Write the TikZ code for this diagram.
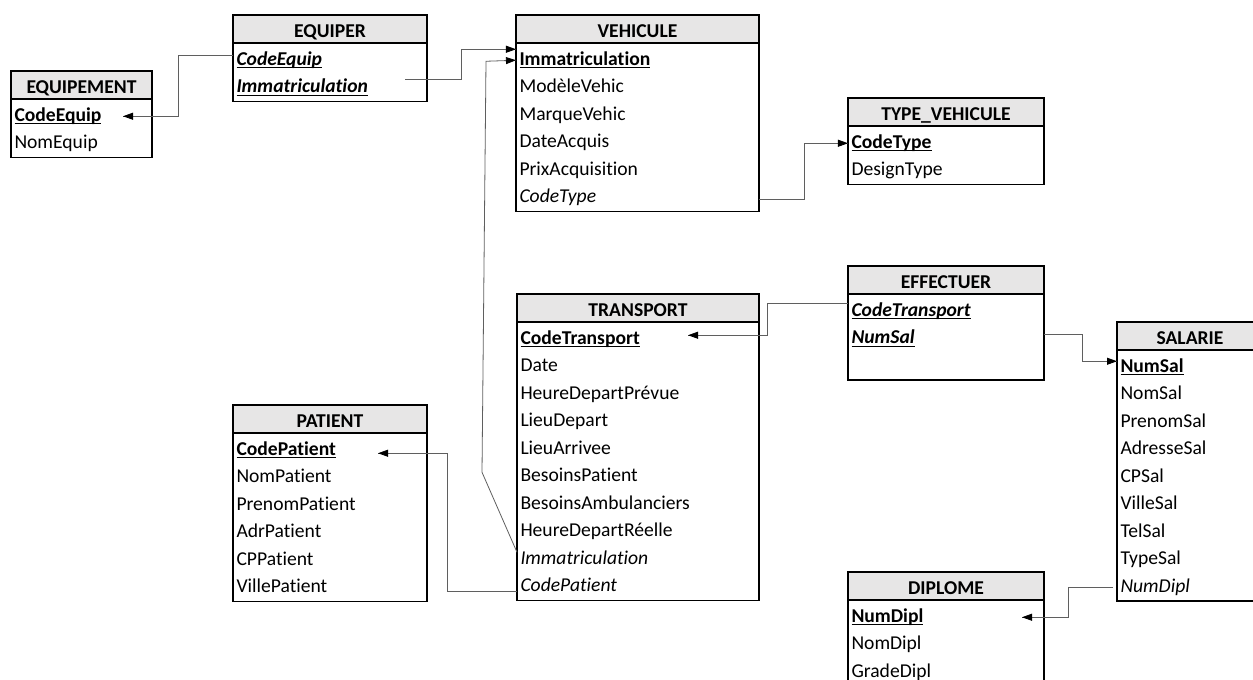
\documentclass[tikz,border=0pt]{standalone}
\usepackage{fontspec}
\setmainfont{Carlito}[Ligatures=NoCommon]
\usetikzlibrary{positioning, calc, arrows.meta, decorations.markings}
\usepackage{xcolor}
\definecolor{gris}{RGB}{231,230,230}
\definecolor{trait}{RGB}{95,95,95}
\newcommand{\Cle}[1]{\sbox0{#1}\rlap{\rule[-3pt]{\wd0}{1.2pt}}\usebox0}
\tikzstyle{Entete} = [
draw, line width=1.3pt, fill=gris,
anchor=north west, inner sep=0pt, outer sep=0pt,
minimum height=28pt, text height=16pt, text depth=0pt,
font=\bfseries]
\tikzset{Champ/.style={
text width=#1, inner xsep=3.5pt, inner ysep=0pt, outer sep=0pt,
minimum height=27.5pt, text height=14pt, text depth=4pt, align=left}}
\tikzstyle{Cadre} = [line width=1.3pt]
\tikzstyle{Lien} = [
draw=trait, line width=0.8pt,
decoration={
markings,
mark=at position 0.9999 with {
\arrow{Triangle[length=10pt, width=7pt, color=black]}}},
postaction = {decorate}]

\begin{document}
\fontsize{19.6}{23}\selectfont
\begin{tikzpicture}[x=1pt, y=-1pt]
    \useasboundingbox (0,0) rectangle (1253,680);
    \clip (0,0) rectangle (1253,680);

    % EQUIPEMENT
    \node[Entete, minimum width=141pt] (eqt) at (11,71) {EQUIPEMENT};
    \node[Champ=134pt, below =3.5pt of eqt] (eqt1) {\Cle{\textbf{CodeEquip}}};
    \node[Champ=134pt, below =0pt of eqt1] (eqt2) {NomEquip};
    \draw[Cadre] (eqt.north west) rectangle (eqt2.south east);

    % EQUIPER
    \node[Entete, minimum width=194pt] (equ) at (233,15) {EQUIPER};
    \node[Champ=187pt, below =3.5pt of equ] (equ1) {\Cle{\textbf{\textit{CodeEquip}}}};
    \node[Champ=187pt, below =0pt of equ1] (equ2) {\Cle{\textbf{\textit{Immatriculation}}}};
    \draw[Cadre] (equ.north west) rectangle (equ2.south east);

    % VEHICULE
    \node[Entete, minimum width=243pt] (veh) at (516,15) {VEHICULE};
    \node[Champ=236pt, below =3.5pt of veh] (veh1) {\Cle{\textbf{Immatriculation}}};
    \node[Champ=236pt, below =0pt of veh1] (veh2) {ModèleVehic};
    \node[Champ=236pt, below =0pt of veh2] (veh3) {MarqueVehic};
    \node[Champ=236pt, below =0pt of veh3] (veh4) {DateAcquis};
    \node[Champ=236pt, below =0pt of veh4] (veh5) {PrixAcquisition};
    \node[Champ=236pt, below =0pt of veh5] (veh6) {\textit{CodeType}};
    \draw[Cadre] (veh.north west) rectangle (veh6.south east);

    % TYPE_VEHICULE
    \node[Entete, minimum width=196pt] (typ) at (848,98) {TYPE\_VEHICULE};
    \node[Champ=189pt, below =3.5pt of typ] (typ1) {\Cle{\textbf{CodeType}}};
    \node[Champ=189pt, below =0pt of typ1] (typ2) {DesignType};
    \draw[Cadre] (typ.north west) rectangle (typ2.south east);

    % TRANSPORT
    \node[Entete, minimum width=242pt] (tra) at (517,294) {TRANSPORT};
    \node[Champ=235pt, below =3.5pt of tra] (tra1) {\Cle{\textbf{CodeTransport}}};
    \node[Champ=235pt, below =0pt of tra1] (tra2) {Date};
    \node[Champ=235pt, below =0pt of tra2] (tra3) {HeureDepartPrévue};
    \node[Champ=235pt, below =0pt of tra3] (tra4) {LieuDepart};
    \node[Champ=235pt, below =0pt of tra4] (tra5) {LieuArrivee};
    \node[Champ=235pt, below =0pt of tra5] (tra6) {BesoinsPatient};
    \node[Champ=235pt, below =0pt of tra6] (tra7) {BesoinsAmbulanciers};
    \node[Champ=235pt, below =0pt of tra7] (tra8) {HeureDepartRéelle};
    \node[Champ=235pt, below =0pt of tra8] (tra9) {\textit{Immatriculation}};
    \node[Champ=235pt, below =0pt of tra9] (tra10) {\textit{CodePatient}};
    \draw[Cadre] (tra.north west) rectangle (tra10.south east);

    % EFFECTUER
    \node[Entete, minimum width=196pt] (eff) at (848,266) {EFFECTUER};
    \node[Champ=189pt, below =3.5pt of eff] (eff1) {\Cle{\textbf{\textit{CodeTransport}}}};
    \node[Champ=189pt, below =0pt of eff1] (eff2) {\Cle{\textbf{\textit{NumSal}}}};
    \draw[Cadre] (eff.north west) rectangle ([yshift=-27.5pt]eff2.south east);

    % SALARIE
    \node[Entete, minimum width=146pt] (sal) at (1117,322) {SALARIE};
    \node[Champ=139pt, below =3.5pt of sal] (sal1) {\Cle{\textbf{NumSal}}};
    \node[Champ=139pt, below =0pt of sal1] (sal2) {NomSal};
    \node[Champ=139pt, below =0pt of sal2] (sal3) {PrenomSal};
    \node[Champ=139pt, below =0pt of sal3] (sal4) {AdresseSal};
    \node[Champ=139pt, below =0pt of sal4] (sal5) {CPSal};
    \node[Champ=139pt, below =0pt of sal5] (sal6) {VilleSal};
    \node[Champ=139pt, below =0pt of sal6] (sal7) {TelSal};
    \node[Champ=139pt, below =0pt of sal7] (sal8) {TypeSal};
    \node[Champ=139pt, below =0pt of sal8] (sal9) {\textit{NumDipl}};
    \draw[Cadre] (sal.north west) rectangle (sal9.south east);

    % PATIENT
    \node[Entete, minimum width=194pt] (pat) at (233,405) {PATIENT};
    \node[Champ=187pt, below =3.5pt of pat] (pat1) {\Cle{\textbf{CodePatient}}};
    \node[Champ=187pt, below =0pt of pat1] (pat2) {NomPatient};
    \node[Champ=187pt, below =0pt of pat2] (pat3) {PrenomPatient};
    \node[Champ=187pt, below =0pt of pat3] (pat4) {AdrPatient};
    \node[Champ=187pt, below =0pt of pat4] (pat5) {CPPatient};
    \node[Champ=187pt, below =0pt of pat5] (pat6) {VillePatient};
    \draw[Cadre] (pat.north west) rectangle (pat6.south east);

    % DIPLOME
    \node[Entete, minimum width=196pt] (dip) at (848,572) {DIPLOME};
    \node[Champ=189pt, below =3.5pt of dip] (dip1) {\Cle{\textbf{NumDipl}}};
    \node[Champ=189pt, below =0pt of dip1] (dip2) {NomDipl};
    \node[Champ=189pt, below =0pt of dip2] (dip3) {GradeDipl};
    \draw[Cadre] (dip.north west) rectangle (dip3.south east);

    % liens
    \draw[Lien] ([yshift=5pt]equ1.west) -- ++(-55,0) |- ([xshift=-29pt]eqt1.east);
    \draw[Lien] ([xshift=-22pt, yshift=8pt]equ2.east) -- ++(56,0) |- ([yshift=11pt]veh1.west);
    \draw[Lien] ([yshift=7pt]tra9.west) -- ++(-35,-80) -- ++(4,-411) -- (veh1.west);
    \draw[Lien] ([yshift=-2pt]veh6.east) -- ++(45,0) |- (typ1.west);
    \draw[Lien] ([yshift=8pt]eff1.west) -- ++(-81,0) |- ([xshift=-71pt, yshift=4pt]tra1.east);
    \draw[Lien] ([yshift=4pt]eff2.east) -- ++(38,0) |- ([yshift=6pt]sal1.west);
    \draw[Lien] ([xshift=-4pt]sal9.west) -- ++(-45,0) |- ([xshift=-22pt]dip1.east);
    \draw[Lien] ([yshift=-5pt]tra10.west) -- ++(-70,0) |- ([xshift=-49pt, yshift=-3pt]pat1.east);
\end{tikzpicture}
\end{document}
